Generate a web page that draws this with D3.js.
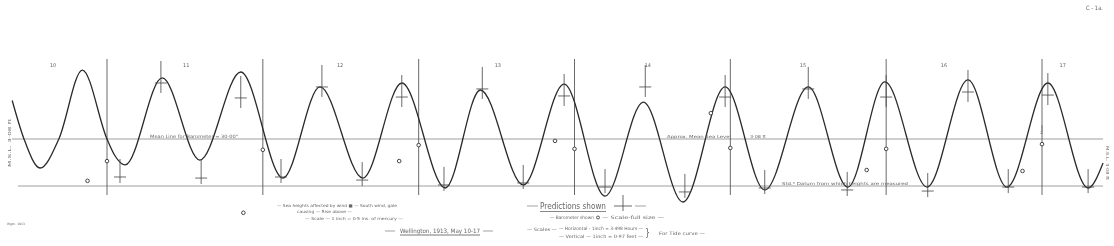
<!DOCTYPE html>
<html>
<head>
<meta charset="utf-8">
<script src="https://cdn.jsdelivr.net/npm/d3@7"></script>
<style>
  body { margin: 0; background: #fff; }
  svg { display: block; font-family: "DejaVu Sans", sans-serif; filter: grayscale(1); }
  .lbl { fill: #666; }
</style>
</head>
<body>
<div id="chart"></div>
<script>
// ----------------------------------------
// DATA (hours from midnight May 10, heights in feet above datum)
// ----------------------------------------
const dayLabels = ["10", "11", "12", "13", "14", "15", "16", "17"];
const dayLabelHours = [15.7, 36.2, 59.9, 84.2, 107.3, 131.2, 152.9, 171.2];
const dayLineHours = [24, 48, 72, 96, 120, 144, 168];

const tideHours = [9.4, 11.2, 13.7, 16.6, 20.2, 24.0, 25.2, 26.8, 32.5, 38.3, 44.6, 51.1,
  56.8, 63.4, 69.4, 76.1, 81.5, 88.1, 94.4, 100.7, 106.6, 112.7, 119.2, 125.3,
  132.0, 138.1, 143.8, 150.3, 156.6, 162.6, 168.9, 175.1, 177.4];
const tideFeet = [5.6, 3.1, 1.18, 3.1, 7.60, 3.08, 2.0, 1.38, 7.08, 1.70, 7.47, 0.52,
  6.49, 0.52, 6.75, -0.13, 6.29, 0.07, 6.68, -0.66, 5.50, -1.05, 6.49, -0.26,
  6.49, -0.07, 6.82, -0.07, 6.95, -0.07, 6.75, -0.13, 1.51];

// predicted high / low waters
const predHours = [26.0, 32.3, 38.5, 44.6, 50.8, 57.1, 63.3, 69.4, 75.9, 81.8, 88.1, 94.4,
  100.7, 106.9, 113.0, 119.2, 125.3, 132.0, 138.0, 144.0, 150.4, 156.6, 162.8, 168.9, 175.1];
const predFeet = [0.59, 6.75, 0.52, 5.77, 0.59, 6.49, 0.39, 5.83, 0.07, 6.36, 0.20, 5.90,
  -0.07, 6.49, -0.39, 5.83, -0.13, 6.36, -0.26, 5.83, -0.33, 6.16, -0.07, 5.96, -0.07];
const predKind = ["L", "H", "L", "H", "L", "H", "L", "H", "L", "H", "L", "H",
  "L", "H", "L", "H", "L", "H", "L", "H", "L", "H", "L", "H", "L"];

// barometer readings (inches)
const baroHours = [21, 24, 45, 48, 69, 72, 93, 96, 117, 120, 141, 144, 165, 168];
const baroInches = [29.11, 29.53, 28.43, 29.77, 29.53, 29.87, 29.96, 29.79, 30.55, 29.81,
  29.34, 29.79, 29.32, 29.89];

const meanSeaLevel = 3.08;
const baroMean = 30.00;

// ----------------------------------------
// SETUP
// ----------------------------------------
const width = 1114, height = 246;
const svg = d3.select("#chart").append("svg")
  .attr("width", width).attr("height", height);

const x = d3.scaleLinear().domain([24, 168]).range([107, 1042]);
const y = d3.scaleLinear().domain([0, meanSeaLevel]).range([186, 139]);
const yBaro = d3.scaleLinear().domain([29, baroMean]).range([186, 139]);

function label(txt, px, py, size, len, extra) {
  const t = svg.append("text").attr("class", "lbl")
    .attr("x", px).attr("y", py)
    .style("font-size", size + "px")
    .text(txt);
  if (len) t.attr("textLength", len).attr("lengthAdjust", "spacingAndGlyphs");
  if (extra) extra(t);
  return t;
}
function rule(x1, y1, x2, y2, col, w) {
  svg.append("line").attr("x1", x1).attr("y1", y1).attr("x2", x2).attr("y2", y2)
    .attr("stroke", col || "#666").attr("stroke-width", w || 0.7);
}

// ----------------------------------------
// REFERENCE LINES
// ----------------------------------------
rule(12, y(meanSeaLevel), 1103, y(meanSeaLevel), "#777", 0.7);
rule(18, y(0), 1103, y(0), "#777", 0.7);

svg.selectAll(".day-line")
  .data(dayLineHours)
  .join("line")
  .attr("class", "day-line")
  .attr("x1", d => x(d)).attr("x2", d => x(d))
  .attr("y1", 59).attr("y2", 195)
  .attr("stroke", "#444").attr("stroke-width", 0.8);

svg.selectAll(".day-label")
  .data(dayLabels)
  .join("text")
  .attr("class", "lbl day-label")
  .attr("x", (d, i) => x(dayLabelHours[i]))
  .attr("y", 67)
  .attr("text-anchor", "middle")
  .style("font-size", "5px")
  .text(d => d);

// ----------------------------------------
// TIDE CURVE
// ----------------------------------------
const tide = tideHours.map((h, i) => ({ h, f: tideFeet[i] }));
const line = d3.line()
  .x(d => x(d.h))
  .y(d => y(d.f))
  .curve(d3.curveMonotoneX);

svg.append("path")
  .datum(tide)
  .attr("fill", "none")
  .attr("stroke", "#2a2a2a")
  .attr("stroke-width", 1.3)
  .attr("d", line);

// ----------------------------------------
// PREDICTION CROSSES
// ----------------------------------------
const preds = predHours.map((h, i) => ({ h, f: predFeet[i], k: predKind[i] }));
const pg = svg.selectAll(".pred").data(preds).join("g").attr("class", "pred")
  .attr("transform", d => `translate(${x(d.h)},${y(d.f)})`);
pg.append("line")
  .attr("x1", 0).attr("x2", 0)
  .attr("y1", d => d.k === "H" ? -22 : -18)
  .attr("y2", d => d.k === "H" ? 10 : 6)
  .attr("stroke", "#444").attr("stroke-width", 0.8);
pg.append("line")
  .attr("x1", -6).attr("x2", 6).attr("y1", 0).attr("y2", 0)
  .attr("stroke", "#444").attr("stroke-width", 0.8);

// ----------------------------------------
// BAROMETER CIRCLES
// ----------------------------------------
svg.selectAll(".baro")
  .data(baroHours)
  .join("circle")
  .attr("class", "baro")
  .attr("cx", d => x(d))
  .attr("cy", (d, i) => yBaro(baroInches[i]))
  .attr("r", 1.8)
  .attr("fill", "#fff")
  .attr("stroke", "#333")
  .attr("stroke-width", 0.9);

// ----------------------------------------
// LABELS ON THE DRAWING
// ----------------------------------------
label("C - 1a.", 1086, 10, 6, 17);
label("Mean   Line   for   Barometer  =  30·00\"", 150, 137.5, 4.5, 88);
label("Approx.    Mean    Sea    Level", 667, 137.5, 4, 64);
label("3·08 ft", 750, 137.5, 4, 16);
label("Std.⁰ Datum   from   which   heights   are   measured", 782, 184.5, 4, 126);
label("M.S.L.  3·08 ft", 0, 0, 4, 48, t => t.attr("transform", "translate(11,167) rotate(-90)"));
label("M.S.L.  3·08 ft", 0, 0, 4, 34, t => t.attr("transform", "translate(1106,146) rotate(90)"));
label("Mean", 0, 0, 3.5, 9, t => t.attr("transform", "translate(1043,134) rotate(-90)"));
label("Wgtn.  1913", 7, 225, 3, 18);

// left legend block
label("— Sea heights affected by wind  ■ — South wind, gale", 277, 207, 4, 120);
label("causing — Rise above —", 297, 213, 4, 55);
label("— Scale — 1 inch = 0·5 ins. of mercury —", 305, 219.5, 4, 98);

// title
rule(385, 231, 395, 231, "#666", 0.6);
label("Wellington,  1913,  May  10-17", 400, 233, 6, 80);
rule(400, 235, 480, 235, "#555", 0.8);
rule(483, 231, 493, 231, "#666", 0.6);

// predictions legend
rule(527, 206, 538, 206, "#666", 0.6);
label("Predictions   shown", 540, 209, 8, 66);
rule(540, 211.5, 606, 211.5, "#555", 0.7);
rule(623, 195, 623, 211, "#444", 0.8);
rule(614, 206, 632, 206, "#444", 0.8);
rule(635, 206, 646, 206, "#666", 0.6);

label("— Barometer  shown", 550, 219, 4.5, 44);
svg.append("circle").attr("cx", 598).attr("cy", 217.5).attr("r", 1.5)
  .attr("fill", "#fff").attr("stroke", "#333").attr("stroke-width", 0.8);
label("— Scale-full size —", 602, 219, 4.5, 62);

label("— Scales —", 527, 231, 4.5, 30);
label("— Horizontal  -  1inch = 3·498 Hours —", 559, 230, 4.5, 84);
label("— Vertical  —  1inch = 0·97 feet —", 559, 237.5, 4.5, 84);
label("}", 645, 236, 10, 5);
label("For  Tide  curve —", 659, 234.5, 4.5, 46);
</script>
</body>
</html>
